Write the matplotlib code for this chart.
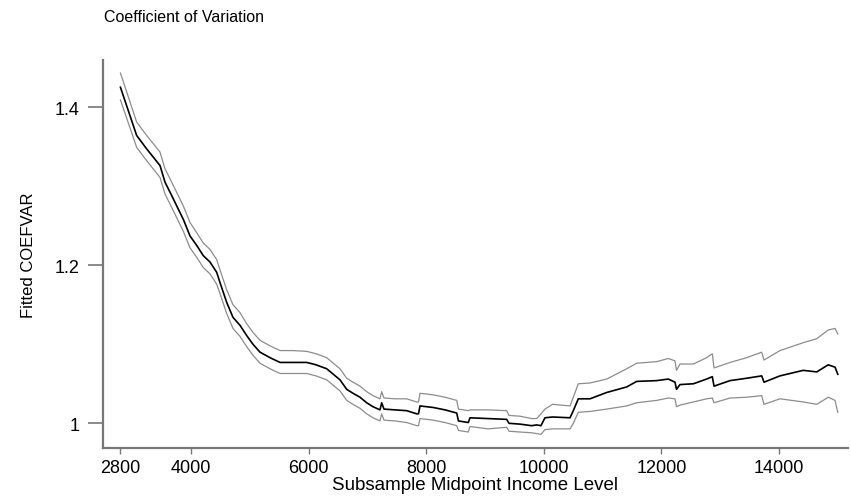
import numpy as np
import matplotlib.pyplot as plt

plt.rcParams['font.family'] = ['Liberation Sans', 'DejaVu Sans']

# subsample midpoint income and fitted coefficient of variation with band
income = [2800, 3076, 3247, 3473, 3558, 3672, 3757, 3869, 3983, 4097,
          4209, 4323, 4437, 4493, 4607, 4714, 4833, 4947, 5054, 5173,
          5344, 5514, 5735, 5968, 6126, 6308, 6534, 6648, 6755, 6874,
          6988, 7095, 7214, 7243, 7282, 7469, 7668, 7838, 7869, 7895,
          8121, 8320, 8519, 8549, 8716, 8745, 9051, 9369, 9408, 9595,
          9794, 9879, 9952, 10020, 10150, 10446, 10502, 10587, 10786, 11070,
          11410, 11580, 11920, 12118, 12231, 12257, 12316, 12543, 12770, 12866,
          12895, 13167, 13451, 13706, 13745, 14017, 14413, 14641, 14838, 14953,
          15000]
fitted = [1.425, 1.364, 1.347, 1.326, 1.305, 1.288, 1.275, 1.258, 1.237, 1.225,
          1.212, 1.204, 1.191, 1.178, 1.153, 1.134, 1.124, 1.111, 1.100, 1.090,
          1.083, 1.077, 1.077, 1.077, 1.074, 1.069, 1.055, 1.043, 1.038, 1.033,
          1.026, 1.021, 1.017, 1.026, 1.018, 1.017, 1.016, 1.012, 1.012, 1.022,
          1.020, 1.017, 1.013, 1.003, 1.001, 1.007, 1.006, 1.005, 1.000, 0.999,
          0.997, 0.998, 0.997, 1.007, 1.008, 1.007, 1.016, 1.031, 1.031, 1.039,
          1.046, 1.053, 1.054, 1.056, 1.052, 1.043, 1.049, 1.050, 1.056, 1.059,
          1.047, 1.054, 1.057, 1.060, 1.052, 1.060, 1.067, 1.065, 1.074, 1.071,
          1.062]
upper = [1.443, 1.381, 1.364, 1.343, 1.322, 1.305, 1.292, 1.275, 1.254, 1.241,
         1.228, 1.220, 1.207, 1.194, 1.169, 1.150, 1.140, 1.126, 1.115, 1.105,
         1.098, 1.092, 1.092, 1.091, 1.088, 1.083, 1.069, 1.057, 1.052, 1.047,
         1.040, 1.035, 1.031, 1.040, 1.032, 1.031, 1.031, 1.027, 1.027, 1.038,
         1.036, 1.033, 1.029, 1.018, 1.016, 1.017, 1.017, 1.016, 1.010, 1.009,
         1.006, 1.006, 1.012, 1.018, 1.024, 1.022, 1.033, 1.050, 1.051, 1.056,
         1.069, 1.076, 1.078, 1.082, 1.079, 1.067, 1.075, 1.075, 1.083, 1.088,
         1.070, 1.077, 1.083, 1.090, 1.080, 1.092, 1.102, 1.107, 1.118, 1.120,
         1.113]
lower = [1.409, 1.349, 1.332, 1.311, 1.290, 1.273, 1.260, 1.243, 1.222, 1.210,
         1.197, 1.189, 1.176, 1.164, 1.139, 1.120, 1.110, 1.097, 1.086, 1.076,
         1.069, 1.063, 1.063, 1.063, 1.060, 1.055, 1.041, 1.029, 1.024, 1.019,
         1.012, 1.007, 1.003, 1.012, 1.004, 1.003, 1.001, 0.997, 0.997, 1.006,
         1.004, 1.001, 0.997, 0.991, 0.989, 0.996, 0.993, 0.995, 0.990, 0.989,
         0.988, 0.987, 0.986, 0.992, 0.993, 0.993, 1.000, 1.014, 1.015, 1.018,
         1.022, 1.026, 1.029, 1.032, 1.031, 1.021, 1.023, 1.027, 1.031, 1.032,
         1.026, 1.032, 1.033, 1.035, 1.024, 1.031, 1.027, 1.024, 1.033, 1.029,
         1.014]

xticks = [2800, 4000, 6000, 8000, 10000, 12000, 14000]
yticks = [1, 1.2, 1.4]
ytick_labels = ['1', '1.2', '1.4']

fig = plt.figure(figsize=(8.51, 5.02), dpi=100)
ax = fig.add_axes([0.121, 0.1056, 0.8755, 0.7734])

ax.plot(income, upper, color='#8c8c8c', lw=0.9)
ax.plot(income, lower, color='#8c8c8c', lw=0.9)
ax.plot(income, fitted, color='black', lw=1.2)

ax.set_xlim(2503, 15174)
ax.set_ylim(0.9688, 1.4598)
ax.set_xticks(xticks)
ax.set_yticks(yticks)
ax.set_yticklabels(ytick_labels)

for s in ['top', 'right']:
    ax.spines[s].set_visible(False)
for s in ['left', 'bottom']:
    ax.spines[s].set_color('#777777')
    ax.spines[s].set_linewidth(1.6)

ax.tick_params(axis='y', length=11, width=1.2, color='#777777',
               labelsize=13, pad=6)
ax.tick_params(axis='x', length=4, width=1.0, color='#777777',
               labelsize=13, pad=4)

ax.set_xlabel('Subsample Midpoint Income Level', fontsize=13.5, labelpad=0)
ax.set_ylabel('Fitted COEFVAR', fontsize=12, labelpad=13)

fig.text(104 / 851, 1 - 17 / 502, 'Coefficient of Variation',
         fontsize=11.5, ha='left', va='center')

fig.savefig('out.png', dpi=100)
